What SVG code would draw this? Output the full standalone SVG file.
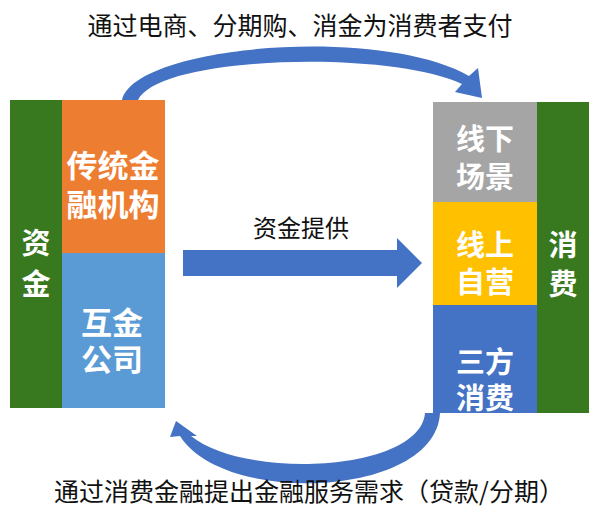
<svg xmlns="http://www.w3.org/2000/svg" width="603" height="515" viewBox="0 0 603 515">
<style>
.box{font-family:"Noto Sans CJK SC","Liberation Sans",sans-serif;font-weight:bold;fill:#ffffff;text-anchor:middle;dominant-baseline:central}
.lbl{font-family:"Noto Sans CJK SC","Liberation Sans",sans-serif;fill:#111111;text-anchor:middle;dominant-baseline:central}
.arr{fill:#4472C4}
</style>
<rect width="603" height="515" fill="#ffffff"/>
<g id="left-funds">
<rect x="10" y="100" width="52" height="308" fill="#38781F"/>
<text class="box" font-size="29"><tspan x="36" y="241">资</tspan><tspan x="36" y="282">金</tspan></text>
</g>
<g id="traditional">
<rect x="62" y="100" width="103" height="153" fill="#ED7D31"/>
<text class="box" font-size="31"><tspan x="113" y="163">传统金</tspan><tspan x="113" y="202">融机构</tspan></text>
</g>
<g id="fintech">
<rect x="62" y="253" width="103" height="155" fill="#5B9BD5"/>
<text class="box" font-size="31"><tspan x="112" y="320">互金</tspan><tspan x="112" y="357">公司</tspan></text>
</g>
<g id="offline">
<rect x="433" y="102" width="104" height="100" fill="#A5A5A5"/>
<text class="box" font-size="29"><tspan x="485" y="137">线下</tspan><tspan x="485" y="175">场景</tspan></text>
</g>
<g id="online">
<rect x="433" y="202" width="104" height="103" fill="#FFC000"/>
<text class="box" font-size="29"><tspan x="485" y="243">线上</tspan><tspan x="485" y="280">自营</tspan></text>
</g>
<g id="third">
<rect x="433" y="305" width="104" height="108" fill="#4472C4"/>
<text class="box" font-size="29"><tspan x="485" y="360">三方</tspan><tspan x="485" y="396">消费</tspan></text>
</g>
<g id="right-consume">
<rect x="537" y="102" width="52" height="311" fill="#38781F"/>
<text class="box" font-size="29"><tspan x="563" y="243">消</tspan><tspan x="563" y="282">费</tspan></text>
</g>
<g id="connectors">
<path class="arr" d="M183,250 L397,250 L397,238 L422,263 L397,288 L397,276 L183,276 Z"/>
<path class="arr" d="M122,100 C135,45 380,25 469,76 L478,68 L482,98 L455,92 L462,84 C390,50 160,55 138,100 Z"/>
<path class="arr" d="M440,413 C436,497 225,507 180,436 L170,437 L176,421 L197,436 L191,436 C245,480 420,472 425,413 Z"/>
</g>
<g id="labels">
<text class="lbl" x="300" y="24" font-size="25">通过电商、分期购、消金为消费者支付</text>
<text class="lbl" x="301" y="226" font-size="24">资金提供</text>
<text class="lbl" x="309" y="490" font-size="25">通过消费金融提出金融服务需求（贷款/分期）</text>
</g>
</svg>
